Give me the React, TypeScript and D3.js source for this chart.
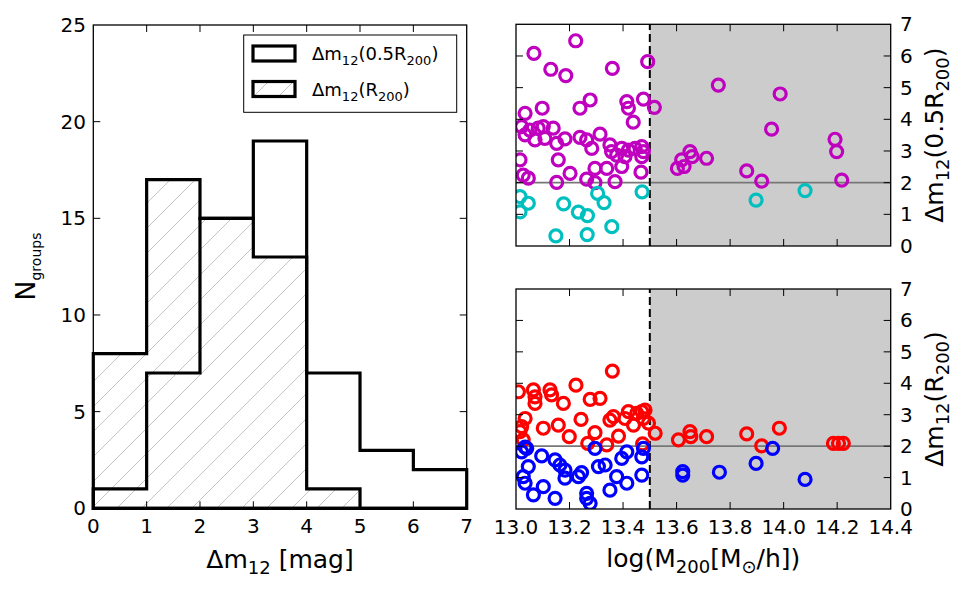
import React, { useEffect, useRef } from "react";
import * as d3 from "d3";

// histogram of the magnitude gap, unit-width bins
const binEdges = [0, 1, 2, 3, 4, 5, 6, 7];
const countsHalfR200 = [1, 7, 15, 19, 7, 3, 2];
const countsR200 = [8, 17, 15, 13, 1, 0, 0];
const histXTicks = [0, 1, 2, 3, 4, 5, 6, 7];
const histYTicks = [0, 5, 10, 15, 20, 25];

const massTicks = [13.0, 13.2, 13.4, 13.6, 13.8, 14.0, 14.2, 14.4];
const gapTicks = [0, 1, 2, 3, 4, 5, 6, 7];
const massCut = 13.5;
const gapCut = 2;

// gap inside 0.5 R200, groups with gap >= 2
const halfBigMass = [
  13.223, 13.067, 13.13, 13.186, 13.36, 13.492, 13.034, 13.098, 13.239, 13.277,
  13.414, 13.42, 13.476, 13.517, 13.438, 13.021, 13.034, 13.052, 13.071, 13.083,
  13.102, 13.108, 13.139, 13.152, 13.183, 13.239, 13.264, 13.283, 13.314, 13.351,
  13.357, 13.376, 13.395, 13.407, 13.42, 13.445, 13.47, 13.476, 13.47, 13.015,
  13.027, 13.046, 13.158, 13.152, 13.202, 13.264, 13.295, 13.295, 13.339, 13.37,
  13.395, 13.467, 13.756, 13.987, 13.955, 14.192, 14.198, 14.217, 13.862, 13.918,
  13.712, 13.603, 13.628, 13.619, 13.65, 13.658,
];
const halfBigGap = [
  6.48, 6.08, 5.58, 5.38, 5.61, 5.82, 4.19, 4.35, 4.35, 4.61,
  4.56, 4.35, 4.64, 4.38, 3.91, 3.77, 3.51, 3.66, 3.35, 3.72,
  3.77, 3.4, 3.72, 3.24, 3.38, 3.43, 3.35, 3.08, 3.53, 3.19,
  2.98, 2.87, 3.08, 2.82, 3.03, 3.08, 3.14, 2.98, 2.82, 2.72,
  2.24, 2.14, 2.72, 2.01, 2.29, 2.11, 2.0, 2.45, 2.45, 2.03,
  2.51, 2.33, 5.08, 4.8, 3.69, 3.37, 2.98, 2.08, 2.37, 2.05,
  2.77, 2.45, 2.51, 2.72, 2.98, 2.82,
];
// gap inside 0.5 R200, groups with gap < 2
const halfSmallMass = [
  13.015, 13.046, 13.015, 13.149, 13.178, 13.233, 13.267, 13.266, 13.305, 13.329,
  13.358, 13.471, 13.897, 14.08,
];
const halfSmallGap = [
  1.56, 1.35, 1.08, 0.32, 1.33, 1.07, 0.96, 0.36, 1.66, 1.37,
  0.61, 1.71, 1.45, 1.75,
];

// gap inside R200, groups with gap >= 2
const fullBigMass = [
  13.36, 13.009, 13.065, 13.071, 13.071, 13.127, 13.133, 13.177, 13.224, 13.277,
  13.314, 13.034, 13.021, 13.015, 13.027, 13.102, 13.158, 13.199, 13.243, 13.268,
  13.295, 13.339, 13.351, 13.364, 13.383, 13.407, 13.42, 13.439, 13.451, 13.47,
  13.482, 13.476, 13.495, 13.52, 13.473, 13.607, 13.65, 13.653, 13.712, 13.862,
  13.918, 13.984, 14.186, 14.205, 14.223,
];
const fullBigGap = [
  4.39, 3.73, 3.79, 3.57, 3.36, 3.79, 3.63, 3.36, 3.94, 3.49,
  3.52, 2.88, 2.62, 2.46, 2.2, 2.57, 2.67, 2.3, 2.85, 2.09,
  2.43, 2.04, 2.83, 2.94, 2.32, 2.88, 3.1, 2.67, 3.04, 3.1,
  3.15, 2.88, 2.73, 2.41, 2.07, 2.2, 2.46, 2.3, 2.3, 2.39,
  2.01, 2.57, 2.09, 2.09, 2.09,
];
// gap inside R200, groups with gap < 2
const fullSmallMass = [
  13.034, 13.021, 13.04, 13.096, 13.046, 13.027, 13.034, 13.065, 13.102, 13.146,
  13.146, 13.164, 13.183, 13.183, 13.233, 13.245, 13.264, 13.264, 13.277, 13.295,
  13.308, 13.333, 13.351, 13.376, 13.395, 13.414, 13.414, 13.47, 13.47, 13.476,
  13.623, 13.623, 13.76, 13.897, 13.959, 14.08,
];
const fullSmallGap = [
  1.97, 1.82, 1.93, 1.69, 1.35, 1.03, 0.82, 0.45, 0.71, 0.34,
  1.56, 1.4, 1.24, 0.98, 1.03, 1.16, 0.5, 0.34, 0.18, 1.93,
  1.35, 1.4, 0.6, 1.03, 1.61, 1.82, 0.82, 1.08, 1.66, 1.93,
  1.19, 1.08, 1.17, 1.45, 1.93, 0.94,
];

const FONT = "DejaVu Sans";
const HATCH = 25;
type Part = [string, boolean];

// text with subscripts laid out as tspans
function richText(
  g: d3.Selection<SVGTextElement, unknown, null, undefined>,
  parts: Part[],
  size: number,
  subSize: number,
  shift: number
) {
  let down = false;
  parts.forEach(([s, sub]) => {
    const ts = g.append("tspan").text(s).attr("font-size", sub ? subSize : size);
    if (sub && !down) {
      ts.attr("dy", shift);
      down = true;
    } else if (!sub && down) {
      ts.attr("dy", -shift);
      down = false;
    }
  });
}

function drawHistogram(svg: d3.Selection<SVGSVGElement, unknown, null, undefined>) {
  const x = d3.scaleLinear().domain([0, 7]).range([93.3, 466.7]);
  const y = d3.scaleLinear().domain([0, 25]).range([508.3, 25]);
  const g = svg.append("g");

  const stepPath = (counts: number[]) => {
    const pts: [number, number][] = [[x(binEdges[0]), y(0)]];
    counts.forEach((c, i) => {
      pts.push([x(binEdges[i]), y(c)]);
      pts.push([x(binEdges[i + 1]), y(c)]);
    });
    pts.push([x(binEdges[binEdges.length - 1]), y(0)]);
    return d3.line()(pts) + "Z";
  };

  g.append("path")
    .attr("d", stepPath(countsR200))
    .attr("fill", "url(#hatch)")
    .attr("stroke", "black")
    .attr("stroke-width", 3.2)
    .attr("stroke-linejoin", "miter");
  g.append("path")
    .attr("d", stepPath(countsHalfR200))
    .attr("fill", "none")
    .attr("stroke", "black")
    .attr("stroke-width", 3.2)
    .attr("stroke-linejoin", "miter");

  // frame and inward ticks
  g.append("rect")
    .attr("x", x(0))
    .attr("y", y(25))
    .attr("width", x(7) - x(0))
    .attr("height", y(0) - y(25))
    .attr("fill", "none")
    .attr("stroke", "black")
    .attr("stroke-width", 1.3);
  histXTicks.slice(1, -1).forEach((t) => {
    g.append("line").attr("x1", x(t)).attr("x2", x(t)).attr("y1", y(0)).attr("y2", y(0) - 7).attr("stroke", "black");
    g.append("line").attr("x1", x(t)).attr("x2", x(t)).attr("y1", y(25)).attr("y2", y(25) + 7).attr("stroke", "black");
  });
  histYTicks.slice(1, -1).forEach((t) => {
    g.append("line").attr("x1", x(0)).attr("x2", x(0) + 7).attr("y1", y(t)).attr("y2", y(t)).attr("stroke", "black");
    g.append("line").attr("x1", x(7)).attr("x2", x(7) - 7).attr("y1", y(t)).attr("y2", y(t)).attr("stroke", "black");
  });

  g.selectAll(".xt")
    .data(histXTicks)
    .enter()
    .append("text")
    .attr("x", (d) => x(d))
    .attr("y", 533)
    .attr("text-anchor", "middle")
    .attr("font-family", FONT)
    .attr("font-size", 20)
    .text((d) => d);
  g.selectAll(".yt")
    .data(histYTicks)
    .enter()
    .append("text")
    .attr("x", 86)
    .attr("y", (d) => y(d) + 7)
    .attr("text-anchor", "end")
    .attr("font-family", FONT)
    .attr("font-size", 20)
    .text((d) => d);

  const xl = g.append("text")
    .attr("x", (x(0) + x(7)) / 2)
    .attr("y", 568)
    .attr("text-anchor", "middle")
    .attr("font-family", FONT);
  richText(xl, [["Δm", false], ["12", true], [" [mag]", false]], 25, 18, 6);

  const yl = g.append("text")
    .attr("transform", `translate(35,${(y(0) + y(25)) / 2}) rotate(-90)`)
    .attr("text-anchor", "middle")
    .attr("font-family", FONT);
  richText(yl, [["N", false], ["groups", true]], 27, 14, 6);

  // legend
  const lg = g.append("g");
  lg.append("rect")
    .attr("x", 243.7)
    .attr("y", 35)
    .attr("width", 213)
    .attr("height", 77.3)
    .attr("fill", "white")
    .attr("stroke", "black")
    .attr("stroke-width", 1);
  const items: { fill: string; label: Part[] }[] = [
    { fill: "white", label: [["Δm", false], ["12", true], ["(0.5R", false], ["200", true], [")", false]] },
    { fill: "url(#hatch)", label: [["Δm", false], ["12", true], ["(R", false], ["200", true], [")", false]] },
  ];
  items.forEach((it, i) => {
    const cy = 53.5 + i * 35.5;
    lg.append("rect")
      .attr("x", 253)
      .attr("y", cy - 7.5)
      .attr("width", 42)
      .attr("height", 15)
      .attr("fill", it.fill)
      .attr("stroke", "black")
      .attr("stroke-width", 3.2);
    const t = lg.append("text")
      .attr("x", 312)
      .attr("y", cy + 6.5)
      .attr("font-family", FONT);
    richText(t, it.label, 18, 13, 5);
  });
}

function drawScatter(
  svg: d3.Selection<SVGSVGElement, unknown, null, undefined>,
  top: number,
  bottom: number,
  series: { mass: number[]; gap: number[]; color: string }[],
  label: Part[],
  showMassLabels: boolean
) {
  const x = d3.scaleLinear().domain([13.0, 14.4]).range([516, 890.7]);
  const y = d3.scaleLinear().domain([0, 7]).range([bottom, top]);
  const g = svg.append("g");

  g.append("rect")
    .attr("x", x(massCut))
    .attr("y", y(7))
    .attr("width", x(14.4) - x(massCut))
    .attr("height", y(0) - y(7))
    .attr("fill", "#cccccc");
  g.append("line")
    .attr("x1", x(13.0))
    .attr("x2", x(14.4))
    .attr("y1", y(gapCut))
    .attr("y2", y(gapCut))
    .attr("stroke", "#777777")
    .attr("stroke-width", 1.6);
  g.append("line")
    .attr("x1", x(massCut))
    .attr("x2", x(massCut))
    .attr("y1", y(0))
    .attr("y2", y(7))
    .attr("stroke", "black")
    .attr("stroke-width", 2)
    .attr("stroke-dasharray", "8,4");

  const plot = g.append("g");
  series.forEach((s) => {
    plot.selectAll(null)
      .data(d3.range(s.mass.length))
      .enter()
      .append("circle")
      .attr("cx", (i) => x(s.mass[i]))
      .attr("cy", (i) => y(s.gap[i]))
      .attr("r", 6)
      .attr("fill", "none")
      .attr("stroke", s.color)
      .attr("stroke-width", 3.2);
  });

  // clip markers to the axes box
  const clipId = `clip${Math.round(top)}`;
  svg.select("defs")
    .append("clipPath")
    .attr("id", clipId)
    .append("rect")
    .attr("x", x(13.0))
    .attr("y", y(7))
    .attr("width", x(14.4) - x(13.0))
    .attr("height", y(0) - y(7));
  plot.attr("clip-path", `url(#${clipId})`);

  g.append("rect")
    .attr("x", x(13.0))
    .attr("y", y(7))
    .attr("width", x(14.4) - x(13.0))
    .attr("height", y(0) - y(7))
    .attr("fill", "none")
    .attr("stroke", "black")
    .attr("stroke-width", 1.3);
  massTicks.slice(1, -1).forEach((t) => {
    g.append("line").attr("x1", x(t)).attr("x2", x(t)).attr("y1", y(0)).attr("y2", y(0) - 7).attr("stroke", "black");
    g.append("line").attr("x1", x(t)).attr("x2", x(t)).attr("y1", y(7)).attr("y2", y(7) + 7).attr("stroke", "black");
  });
  gapTicks.slice(1, -1).forEach((t) => {
    g.append("line").attr("x1", x(13.0)).attr("x2", x(13.0) + 7).attr("y1", y(t)).attr("y2", y(t)).attr("stroke", "black");
    g.append("line").attr("x1", x(14.4)).attr("x2", x(14.4) - 7).attr("y1", y(t)).attr("y2", y(t)).attr("stroke", "black");
  });

  g.selectAll(null)
    .data(gapTicks)
    .enter()
    .append("text")
    .attr("x", 900)
    .attr("y", (d) => y(d) + 7)
    .attr("font-family", FONT)
    .attr("font-size", 20)
    .text((d) => d);

  if (showMassLabels) {
    g.selectAll(null)
      .data(massTicks)
      .enter()
      .append("text")
      .attr("x", (d) => x(d))
      .attr("y", 534)
      .attr("text-anchor", "middle")
      .attr("font-family", FONT)
      .attr("font-size", 20)
      .text((d) => d3.format(".1f")(d));
    const xl = g.append("text")
      .attr("x", (x(13.0) + x(14.4)) / 2)
      .attr("y", 567)
      .attr("text-anchor", "middle")
      .attr("font-family", FONT);
    richText(
      xl,
      [["log(M", false], ["200", true], ["[M", false], ["⊙", true], ["/h])", false]],
      25,
      18,
      6
    );
  }

  const yl = g.append("text")
    .attr("transform", `translate(943,${(top + bottom) / 2}) rotate(-90)`)
    .attr("text-anchor", "middle")
    .attr("font-family", FONT);
  richText(yl, label, 25, 18, 6);
}

export default function App() {
  const ref = useRef<SVGSVGElement>(null);

  useEffect(() => {
    const svg = d3.select(ref.current!);
    svg.selectAll("*").remove();

    const defs = svg.append("defs");
    const pat = defs.append("pattern")
      .attr("id", "hatch")
      .attr("patternUnits", "userSpaceOnUse")
      .attr("width", HATCH)
      .attr("height", HATCH);
    pat.append("rect").attr("width", HATCH).attr("height", HATCH).attr("fill", "white");
    pat.append("path")
      .attr("d", `M0,${HATCH} L${HATCH},0 M-4,4 L4,-4 M${HATCH - 4},${HATCH + 4} L${HATCH + 4},${HATCH - 4}`)
      .attr("stroke", "#c4c4c4")
      .attr("stroke-width", 1);

    drawHistogram(svg);
    drawScatter(
      svg,
      24.3,
      246,
      [
        { mass: halfBigMass, gap: halfBigGap, color: "#bf00bf" },
        { mass: halfSmallMass, gap: halfSmallGap, color: "#00bfbf" },
      ],
      [["Δm", false], ["12", true], ["(0.5R", false], ["200", true], [")", false]],
      false
    );
    drawScatter(
      svg,
      289,
      509,
      [
        { mass: fullBigMass, gap: fullBigGap, color: "#ff0000" },
        { mass: fullSmallMass, gap: fullSmallGap, color: "#0000ff" },
      ],
      [["Δm", false], ["12", true], ["(R", false], ["200", true], [")", false]],
      true
    );
  }, []);

  return (
    <svg
      ref={ref}
      width={968}
      height={595}
      style={{ position: "absolute", left: 0, top: 0, background: "white" }}
    />
  );
}
